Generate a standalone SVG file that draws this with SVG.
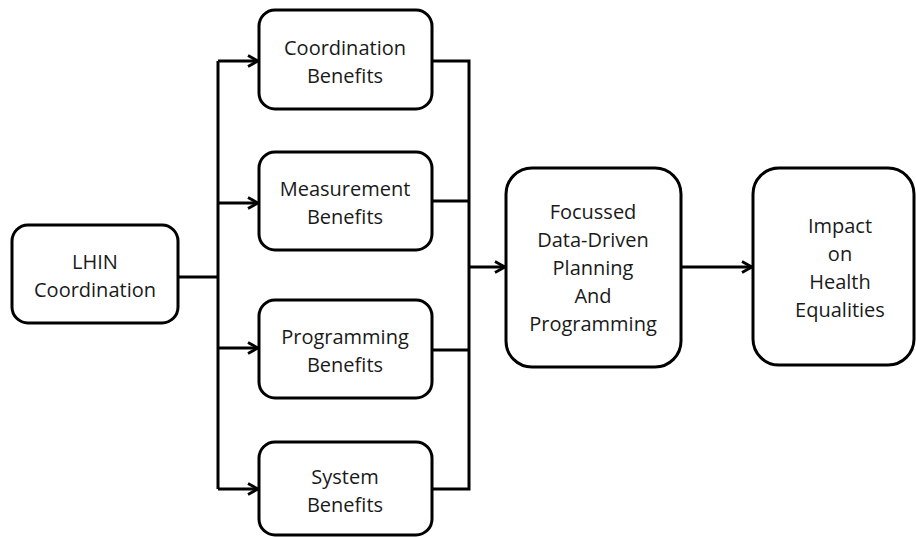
<svg xmlns="http://www.w3.org/2000/svg" width="916" height="537" viewBox="0 0 916 537">
<style>
.box{fill:#fff;stroke:#000;stroke-width:3}
.ln{fill:none;stroke:#000;stroke-width:3}
text{font-family:"Open Sans","Liberation Sans",sans-serif;font-size:20px;fill:#1a1a1a;text-anchor:middle}
</style>
<defs>
<marker id="ah" viewBox="0 0 14 14" refX="13" refY="7" markerWidth="14" markerHeight="14" markerUnits="userSpaceOnUse" orient="auto">
<polyline points="3,1.5 13,7 3,12.5" fill="none" stroke="#000" stroke-width="2.8"/>
</marker>
</defs>
<g id="connectors">
<path class="ln" d="M178,277 H218"/>
<path class="ln" d="M218,61 V489"/>
<path class="ln" d="M218,61 H258" marker-end="url(#ah)"/>
<path class="ln" d="M218,203 H258" marker-end="url(#ah)"/>
<path class="ln" d="M218,348 H258" marker-end="url(#ah)"/>
<path class="ln" d="M218,489 H258" marker-end="url(#ah)"/>
<path class="ln" d="M432,61 H469 V489 H432"/>
<path class="ln" d="M432,201 H469"/>
<path class="ln" d="M432,350 H469"/>
<path class="ln" d="M469,267 H505" marker-end="url(#ah)"/>
<path class="ln" d="M681,267 H752" marker-end="url(#ah)"/>
</g>
<g id="lhin">
<rect class="box" x="12" y="225" width="166" height="98" rx="16"/>
<text x="95" y="269">LHIN</text>
<text x="95" y="297">Coordination</text>
</g>
<g id="coordination">
<rect class="box" x="259" y="10" width="173" height="99" rx="16"/>
<text x="345" y="55">Coordination</text>
<text x="345" y="83">Benefits</text>
</g>
<g id="measurement">
<rect class="box" x="259" y="152" width="173" height="98" rx="16"/>
<text x="345" y="196">Measurement</text>
<text x="345" y="224">Benefits</text>
</g>
<g id="programming">
<rect class="box" x="259" y="300" width="173" height="98" rx="16"/>
<text x="345" y="344">Programming</text>
<text x="345" y="372">Benefits</text>
</g>
<g id="system">
<rect class="box" x="259" y="442" width="173" height="93" rx="16"/>
<text x="345" y="484">System</text>
<text x="345" y="512">Benefits</text>
</g>
<g id="focussed">
<rect class="box" x="506" y="168" width="175" height="199" rx="26"/>
<text x="593" y="219">Focussed</text>
<text x="593" y="247">Data-Driven</text>
<text x="593" y="275">Planning</text>
<text x="593" y="303">And</text>
<text x="593" y="331">Programming</text>
</g>
<g id="impact">
<rect class="box" x="753" y="168" width="161" height="197" rx="26"/>
<text x="840" y="233">Impact</text>
<text x="840" y="261">on</text>
<text x="840" y="289">Health</text>
<text x="840" y="317">Equalities</text>
</g>
</svg>
